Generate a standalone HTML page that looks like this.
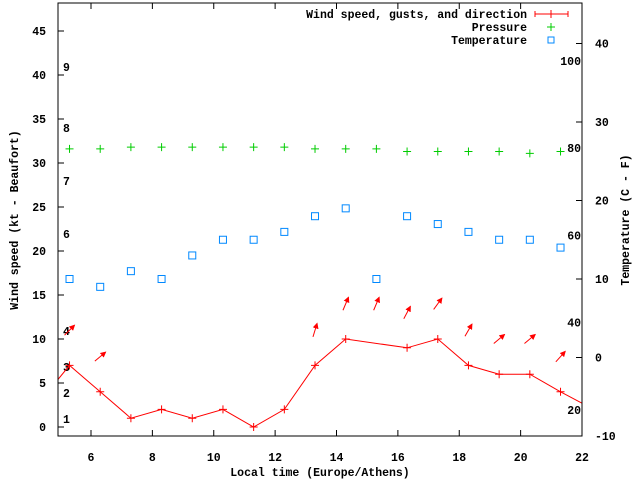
<!DOCTYPE html>
<html><head><meta charset="utf-8"><style>
body{margin:0;background:#fff;}
svg{display:block;font-family:"Liberation Mono",monospace;font-weight:bold;font-size:11.5px;}
</style></head><body>
<svg id="chart" width="640" height="480" viewBox="0 0 640 480" xmlns="http://www.w3.org/2000/svg">
<defs><marker id="ah" markerWidth="6" markerHeight="6" refX="5" refY="3" orient="auto" markerUnits="userSpaceOnUse"><path d="M0,0 L6,3 L0,6 z" fill="#f00"/></marker>
<clipPath id="clip"><rect x="58" y="3" width="524" height="433"/></clipPath></defs>
<g id="axes"></g>
<g id="plot" clip-path="url(#clip)"></g>
<rect x="58" y="3" width="524" height="433" fill="none" stroke="#000" stroke-width="1"/>
<text transform="translate(18,220) rotate(-90)" text-anchor="middle">Wind speed (kt - Beaufort)</text>
<text transform="translate(629,220) rotate(-90)" text-anchor="middle">Temperature (C - F)</text>
<text x="320" y="476" text-anchor="middle">Local time (Europe/Athens)</text>
<g>
<text x="527" y="18" text-anchor="end">Wind speed, gusts, and direction</text>
<line x1="535" y1="14" x2="568" y2="14" stroke="#f00"/><line x1="535" y1="11" x2="535" y2="17" stroke="#f00"/><line x1="568" y1="11" x2="568" y2="17" stroke="#f00"/><line x1="551" y1="10" x2="551" y2="18" stroke="#f00"/>
<text x="527" y="31" text-anchor="end">Pressure</text>
<path d="M547,27h8M551,23v8" stroke="#0c0"/>
<text x="527" y="44" text-anchor="end">Temperature</text>
<rect x="548" y="37" width="6" height="6" fill="none" stroke="#08f"/>
</g>
</svg>
<script>
const hours=[5.3,6.3,7.3,8.3,9.3,10.3,11.3,12.3,13.3,14.3,15.3,16.3,17.3,18.3,19.3,20.3,21.3];
const wind=[7,4,1,2,1,2,0,2,7,10,null,9,10,7,6,6,4];
const gust=[11,8,null,null,null,null,null,null,11,14,14,13,14,11,10,10,8];
const gustDir=[45,50,null,null,null,null,null,null,17,23,23,28,36,30,50,50,42];
const pressure=[31.6,31.6,31.8,31.8,31.8,31.8,31.8,31.8,31.6,31.6,31.6,31.3,31.3,31.3,31.3,31.1,31.3];
const temperature=[10,9,11,10,13,15,15,16,18,19,10,18,17,16,15,15,14];
const xTicks=[6,8,10,12,14,16,18,20,22];
const yTicks=[0,5,10,15,20,25,30,35,40,45];
const y2Ticks=[-10,0,10,20,30,40];
const beaufort=[[1,419],[2,393],[3,367],[4,331],[6,234],[7,181],[8,128],[9,67]];
const fahr=[20,40,60,80,100];
const NS="http://www.w3.org/2000/svg";
const X=h=>91+(h-6)*30.6875;
const Y=v=>427-v*8.8;
const Y2=c=>357.5-c*7.85;
const YF=f=>Y2((f-32)*5/9);
function mk(tag,attrs,parent,txt){const e=document.createElementNS(NS,tag);for(const k in attrs)e.setAttribute(k,attrs[k]);if(txt!=null)e.textContent=txt;parent.appendChild(e);return e;}
const axes=document.getElementById('axes'),plot=document.getElementById('plot');
xTicks.forEach(t=>{const x=X(t);
const l=mk('path',{d:`M${x},436v-6M${x},3v6`,stroke:'#000'},axes);


const tx=mk('text',{x:x,y:461,'text-anchor':'middle'},axes,String(t));

});
yTicks.forEach(t=>{const y=Y(t);
const l=mk('path',{d:`M58,${y}h6`,stroke:'#000'},axes);


const tx=mk('text',{x:46,y:y+4,'text-anchor':'end'},axes,String(t));

});
y2Ticks.forEach(t=>{const y=Y2(t);
const l=mk('path',{d:`M582,${y}h-6`,stroke:'#000'},axes);


const tx=mk('text',{x:595,y:y+4,'text-anchor':'start'},axes,String(t));

});
beaufort.forEach(b=>{const tx=mk('text',{x:63,y:b[1]+4},axes,String(b[0]));

});
fahr.forEach(f=>{const tx=mk('text',{x:581,y:YF(f)+4,'text-anchor':'end'},axes,String(f));

});
// wind line
let d='M'+X(4.9)+','+Y(5.3);
hours.forEach((h,i)=>{if(wind[i]!=null)d+=' L'+X(h)+','+Y(wind[i]);});
d+=' L'+X(22)+','+Y(2.7);
const wl=mk('path',{d:d,fill:'none',stroke:'#f00'},plot);


hours.forEach((h,i)=>{
if(wind[i]!=null){const x=X(h),y=Y(wind[i]);
const p=mk('path',{d:`M${x-4},${y}h8M${x},${y-4}v8`,stroke:'#f00'},plot);

}
if(gust[i]!=null){const x=X(h),y=Y(gust[i]),a=gustDir[i]*Math.PI/180,L=7;
const dx=Math.sin(a)*L,dy=-Math.cos(a)*L;
const ar=mk('line',{x1:x-dx,y1:y-dy,x2:x+dx,y2:y+dy,stroke:'#f00','marker-end':'url(#ah)'},plot);

}
const px=X(h),py=Y(pressure[i]);
const pp=mk('path',{d:`M${px-4},${py}h8M${px},${py-4}v8`,stroke:'#0c0'},plot);


const tx=X(h),ty=Y2(temperature[i]);
const tr=mk('rect',{x:tx-3.5,y:ty-3.5,width:7,height:7,fill:'none',stroke:'#08f'},plot);


});
</script>
</body></html>
